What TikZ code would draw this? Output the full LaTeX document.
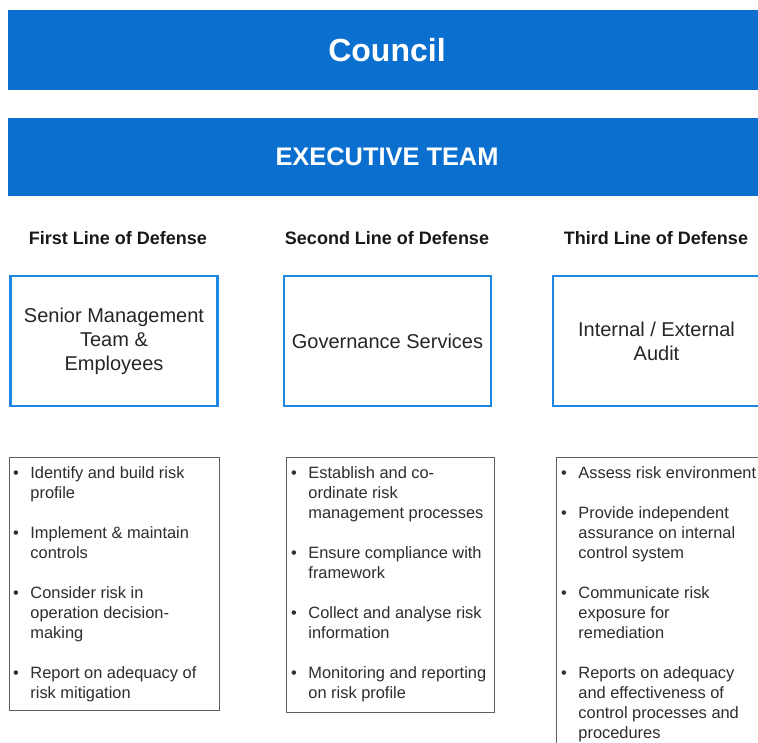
\documentclass[tikz,border=0pt]{standalone}
\usepackage{fontspec}
\setmainfont{Liberation Sans}
\usetikzlibrary{positioning}

\definecolor{barblue}{RGB}{10,111,206}
\definecolor{lineblue}{RGB}{30,136,229}
\definecolor{boxgray}{RGB}{95,95,95}
\definecolor{txtgray}{RGB}{45,45,45}

\tikzset{
  bar/.style={rectangle, fill=barblue, text=white, minimum width=758pt, inner sep=0pt},
  head/.style={font=\bfseries\fontsize{18}{22}\selectfont, text=black!90},
  role/.style={draw=lineblue, line width=2.5pt, fill=white, minimum width=207pt, minimum height=130pt, align=center, font=\fontsize{20}{24}\selectfont, text=black!85},
  duty/.style={draw=boxgray, line width=1pt, fill=white, inner sep=0pt},
  list/.style={anchor=north west, inner sep=0pt, font=\fontsize{16.4}{20}\selectfont, text=txtgray}
}

\begin{document}
\begin{tikzpicture}[x=1pt, y=-1pt]
  \fill[white] (0,0) rectangle (758,742);
  \useasboundingbox (0,0) rectangle (758,742);

  % top bars
  \node[bar, minimum height=80pt, font=\bfseries\fontsize{32}{36}\selectfont] (council) at (387,50) {Council};
  \node[bar, minimum height=78pt, font=\bfseries\fontsize{25.4}{30}\selectfont] (exec) at (387,157) {EXECUTIVE TEAM};

  % lines of defense
  \node[head] (head1) at (118,238) {First Line of Defense};
  \node[head] (head2) at (387,238) {Second Line of Defense};
  \node[head] (head3) at (656,238) {Third Line of Defense};

  \node[role] (role1) at (114,341) {Senior Management\\Team \&\\Employees};
  \node[role] (role2) at (387.5,341) {Governance Services};
  \node[role] (role3) at (656.5,341) {Internal / External\\Audit};

  % duties
  \node[duty, minimum width=210pt, minimum height=253pt] (duty1) at (114,583.5) {};
  \node[duty, minimum width=208pt, minimum height=255pt] (duty2) at (390,584.5) {};
  \node[duty, minimum width=210pt, minimum height=303pt] (duty3) at (661,608.5) {};

  \node[list] (list1) at (13,464.5) {\begin{tabular}{@{}l@{\hspace{11.5pt}}l@{}}
    \textbullet & Identify and build risk\\ & profile\\[20pt]
    \textbullet & Implement \& maintain\\ & controls\\[20pt]
    \textbullet & Consider risk in\\ & operation decision-\\ & making\\[20pt]
    \textbullet & Report on adequacy of\\ & risk mitigation
  \end{tabular}};
  \node[list] (list2) at (291,464.5) {\begin{tabular}{@{}l@{\hspace{11.5pt}}l@{}}
    \textbullet & Establish and co-\\ & ordinate risk\\ & management processes\\[20pt]
    \textbullet & Ensure compliance with\\ & framework\\[20pt]
    \textbullet & Collect and analyse risk\\ & information\\[20pt]
    \textbullet & Monitoring and reporting\\ & on risk profile
  \end{tabular}};
  \node[list] (list3) at (561,464.5) {\begin{tabular}{@{}l@{\hspace{11.5pt}}l@{}}
    \textbullet & Assess risk environment\\[20pt]
    \textbullet & Provide independent\\ & assurance on internal\\ & control system\\[20pt]
    \textbullet & Communicate risk\\ & exposure for\\ & remediation\\[20pt]
    \textbullet & Reports on adequacy\\ & and effectiveness of\\ & control processes and\\ & procedures
  \end{tabular}};
\end{tikzpicture}
\end{document}
